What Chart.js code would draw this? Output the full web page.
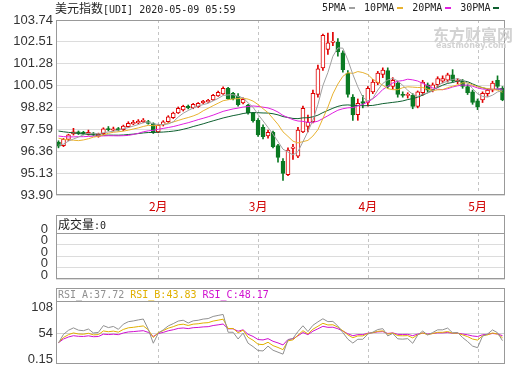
<!DOCTYPE html>
<html>
<head>
<meta charset="utf-8">
<script src="https://cdn.jsdelivr.net/npm/chart.js@4.4.1/dist/chart.umd.min.js"></script>
<style>
  html, body { margin: 0; padding: 0; background: #fff; }
  #wrap { position: relative; width: 520px; height: 365px; overflow: hidden; }
  canvas { position: absolute; left: 0; }
  .txt { position: absolute; white-space: nowrap; font-family: "DejaVu Sans Mono", monospace; font-size: 10px; line-height: 12px; color: #222; }
  .cjk { font-family: "Noto Sans CJK SC", sans-serif; font-size: 12px; }
  .mark { display: inline-block; width: 6px; height: 2px; vertical-align: middle; margin: 0 9px 0 3px; }
  .wm { position: absolute; color: #d2d2d2; white-space: nowrap; }
</style>
</head>
<body>
<div id="wrap">
  <canvas id="price-chart" width="520" height="215" style="top:0"></canvas>
  <canvas id="vol-chart" width="520" height="65" style="top:215px"></canvas>
  <canvas id="rsi-chart" width="520" height="77" style="top:288px"></canvas>

  <div class="txt" style="left:55px;top:2px"><span class="cjk">美元指数</span>[UDI] 2020-05-09 05:59</div>
  <div class="txt" style="left:322px;top:2px">5PMA<span class="mark" style="background:#a0a0a0"></span>10PMA<span class="mark" style="background:#e8b230"></span>20PMA<span class="mark" style="background:#e020e0"></span>30PMA<span class="mark" style="background:#0e6030;margin-right:0"></span></div>
  <div class="wm cjk" style="left:433px;top:22px;font-size:16px;font-weight:bold">东方财富网</div>
  <div class="wm" style="left:436px;top:41px;font-family:'DejaVu Sans';font-size:8px;font-weight:bold">eastmoney.com</div>

  <div class="txt" style="left:58px;top:218px"><span class="cjk">成交量</span>:0</div>
  <div class="txt" style="left:58px;top:289px"><span style="color:#909090">RSI_A:37.72</span> <span style="color:#e0b000">RSI_B:43.83</span> <span style="color:#d010d0">RSI_C:48.17</span></div>
</div>

<script>
  // trading days shown, by month
  const tradeDays = {
    1: [6, 7, 8, 9, 10, 13, 14, 15, 16, 17, 20, 21, 22, 23, 24, 27, 28, 29, 30, 31],
    2: [3, 4, 5, 6, 7, 10, 11, 12, 13, 14, 17, 18, 19, 20, 21, 24, 25, 26, 27, 28],
    3: [2, 3, 4, 5, 6, 9, 10, 11, 12, 13, 16, 17, 18, 19, 20, 23, 24, 25, 26, 27, 30, 31],
    4: [1, 2, 3, 6, 7, 8, 9, 10, 13, 14, 15, 16, 17, 20, 21, 22, 23, 24, 27, 28, 29, 30],
    5: [1, 4, 5, 6, 7, 8],
  };

  // closes before the first candle, only used to seed the MA / RSI lines
  const priorCloses = [98.27, 98.30, 98.25, 98.40, 98.35, 98.27, 97.85, 97.75, 97.65, 97.45,
    97.70, 97.60, 97.45, 97.15, 97.30, 97.15, 97.05, 97.20, 97.40, 97.40,
    97.65, 97.65, 97.60, 97.60, 96.95, 96.75, 96.40, 96.85, 96.85];

  const opens = [
    96.88, 96.68, 97.02, 97.33, 97.45, 97.42, 97.32, 97.36, 97.20, 97.35,
    97.63, 97.55, 97.63, 97.58, 97.74, 97.90, 97.95, 98.02, 98.03, 97.92,
    97.45, 97.84, 98.02, 98.25, 98.52, 98.68, 98.90, 98.80, 98.86, 99.08,
    99.13, 99.25, 99.47, 99.58, 99.90, 99.62, 99.45, 99.08, 98.95, 98.50,
    98.10, 97.70, 97.22, 97.42, 96.68, 95.80, 95.05, 96.52, 96.08, 97.45,
    97.75, 98.02, 99.55, 101.05, 102.08, 102.48, 102.50, 101.90, 100.75, 99.40,
    98.42, 99.15, 99.10, 99.70, 100.20, 100.68, 100.90, 100.00, 100.20, 99.55,
    99.50, 99.50, 98.88, 99.65, 100.10, 99.80, 100.10, 100.30, 100.35, 100.65,
    100.28, 100.30, 100.00, 99.70, 99.20, 99.25, 99.60, 99.80, 100.35, 99.90,
  ];
  const highs = [
    96.95, 97.08, 97.32, 97.65, 97.50, 97.48, 97.55, 97.42, 97.38, 97.68,
    97.75, 97.72, 97.70, 97.83, 98.02, 98.10, 98.14, 98.20, 98.10, 97.96,
    97.88, 98.08, 98.36, 98.56, 98.85, 98.95, 98.96, 99.05, 99.10, 99.22,
    99.28, 99.56, 99.74, 99.98, 99.95, 99.68, 99.60, 99.36, 99.00, 98.55,
    98.20, 97.85, 97.55, 97.50, 96.75, 95.95, 96.55, 96.75, 97.70, 98.90,
    98.40, 99.80, 101.20, 102.95, 103.00, 103.05, 102.70, 102.00, 100.90, 99.55,
    99.30, 99.50, 100.00, 100.40, 100.85, 101.05, 101.05, 100.50, 100.30, 99.70,
    99.65, 99.60, 99.75, 100.35, 100.20, 100.20, 100.55, 100.60, 100.75, 100.95,
    100.45, 100.40, 100.10, 99.80, 99.30, 99.70, 99.85, 100.30, 100.60, 100.00,
  ];
  const lows = [
    96.55, 96.62, 96.95, 97.27, 97.30, 97.28, 97.27, 97.25, 97.15, 97.30,
    97.50, 97.50, 97.50, 97.52, 97.70, 97.85, 97.90, 97.96, 97.88, 97.36,
    97.40, 97.78, 97.98, 98.20, 98.48, 98.62, 98.74, 98.75, 98.82, 99.04,
    99.10, 99.22, 99.44, 99.55, 99.28, 99.25, 98.90, 99.02, 98.45, 98.00,
    97.20, 97.05, 97.10, 96.55, 95.75, 94.72, 94.98, 95.90, 96.00, 97.40,
    97.45, 97.95, 99.40, 100.90, 101.80, 102.30, 101.70, 100.80, 99.40, 98.10,
    98.10, 98.80, 98.90, 99.60, 100.10, 100.50, 99.90, 99.85, 99.40, 99.40,
    99.35, 98.75, 98.80, 99.50, 99.70, 99.70, 100.00, 100.20, 100.25, 100.25,
    100.15, 99.90, 99.55, 99.00, 98.70, 99.10, 99.45, 99.70, 99.90, 99.20,
  ];
  const closes = [
    96.65, 97.03, 97.28, 97.45, 97.36, 97.34, 97.42, 97.30, 97.32, 97.62,
    97.57, 97.62, 97.56, 97.78, 97.93, 97.98, 98.05, 98.11, 97.93, 97.42,
    97.82, 98.02, 98.30, 98.50, 98.78, 98.88, 98.80, 99.00, 99.06, 99.18,
    99.23, 99.50, 99.68, 99.90, 99.32, 99.32, 98.98, 99.28, 98.52, 98.08,
    97.28, 97.18, 97.43, 96.62, 96.02, 95.12, 96.42, 96.60, 97.55, 98.78,
    98.00, 99.62, 101.00, 102.88, 102.45, 102.56, 101.95, 100.95, 99.55, 98.40,
    99.05, 99.05, 99.90, 100.25, 100.75, 100.92, 100.00, 100.35, 99.55, 99.50,
    99.55, 98.88, 99.70, 100.25, 99.80, 100.10, 100.45, 100.45, 100.65, 100.32,
    100.35, 100.00, 99.65, 99.10, 98.85, 99.62, 99.80, 100.20, 100.00, 99.25,
  ];

  const priceTicks = [93.90, 95.13, 96.36, 97.59, 98.82, 100.05, 101.28, 102.51, 103.74];
  const rsiTicks = [0.15, 54, 108];
  const volTicks = [0, 1, 2, 3, 4];

  const UP = '#e00000';
  const DOWN = '#0b7a23';

  const categories = Object.entries(tradeDays)
    .flatMap(([m, days]) => days.map((d) => `2020-${m.padStart(2, '0')}-${String(d).padStart(2, '0')}`));
  const monthStarts = categories
    .map((c, i) => (i > 0 && c.slice(5, 7) !== categories[i - 1].slice(5, 7) ? i : -1))
    .filter((i) => i >= 0);

  const allCloses = priorCloses.concat(closes);

  function movingAverage(n) {
    return closes.map((_, i) => {
      const end = priorCloses.length + i + 1;
      return allCloses.slice(end - n, end).reduce((a, b) => a + b, 0) / n;
    });
  }

  // same RSI as the terminal: SMA(MAX(C-LC,0),N,1) / SMA(ABS(C-LC),N,1) * 100
  function rsi(n) {
    let up = 0;
    let all = 0;
    const out = [];
    for (let i = 1; i < allCloses.length; i++) {
      const d = allCloses[i] - allCloses[i - 1];
      up = (Math.max(d, 0) + (n - 1) * up) / n;
      all = (Math.abs(d) + (n - 1) * all) / n;
      if (i >= priorCloses.length) out.push(all ? (up / all) * 100 : 50);
    }
    return out;
  }

  const isUp = closes.map((c, i) => c >= opens[i]);
  const candleColor = isUp.map((u) => (u ? UP : DOWN));

  const framePlugin = {
    id: 'frame',
    beforeDatasetsDraw(chart) {
      const { ctx, chartArea: a, scales: { x } } = chart;
      ctx.save();
      ctx.strokeStyle = '#c4c4c4';
      ctx.lineWidth = 1;
      ctx.setLineDash([3, 3]);
      monthStarts.forEach((i) => {
        const px = Math.round(x.getPixelForValue(i)) + 0.5;
        ctx.beginPath();
        ctx.moveTo(px, a.top);
        ctx.lineTo(px, a.bottom);
        ctx.stroke();
      });
      ctx.restore();
    },
    afterDraw(chart, args, opts) {
      const { ctx, chartArea: a } = chart;
      const head = opts.header || 0;
      ctx.save();
      ctx.strokeStyle = '#999';
      ctx.lineWidth = 1;
      ctx.strokeRect(a.left + 0.5, a.top - head + 0.5, a.right - a.left - 1, a.bottom - a.top + head - 1);
      if (head) {
        ctx.beginPath();
        ctx.moveTo(a.left, a.top + 0.5);
        ctx.lineTo(a.right, a.top + 0.5);
        ctx.stroke();
      }
      ctx.restore();
    },
  };

  Chart.defaults.animation = false;
  Chart.defaults.responsive = false;
  Chart.defaults.devicePixelRatio = 1;
  Chart.defaults.plugins.legend.display = false;
  Chart.defaults.plugins.tooltip.enabled = false;
  Chart.defaults.font.family = '"Liberation Sans", Arial, sans-serif';

  const tickFont = { family: '"Liberation Sans", Arial, sans-serif', size: 13 };

  function yScale(min, max, ticks, extra) {
    return Object.assign({
      min,
      max,
      afterBuildTicks: (scale) => { scale.ticks = ticks.map((value) => ({ value })); },
      afterFit: (scale) => {
        scale.width = 56;
        scale.paddingTop = 0;
        scale.paddingBottom = 0;
      },
      grid: { color: '#dcdcdc', drawTicks: false },
      border: { display: false },
      ticks: { padding: 3, color: '#333', font: tickFont },
    }, extra);
  }

  const maLines = [
    [5, '#a0a0a0'],
    [10, '#e8b230'],
    [20, '#e020e0'],
    [30, '#0e6030'],
  ];

  new Chart(document.getElementById('price-chart'), {
    data: {
      labels: categories,
      datasets: [
        ...maLines.map(([n, color]) => ({
          type: 'line',
          label: `${n}PMA`,
          data: movingAverage(n),
          borderColor: color,
          borderWidth: 1,
          pointRadius: 0,
          tension: 0,
          order: 1,
        })),
        {
          type: 'bar',
          label: 'body',
          data: opens.map((o, i) => [o, closes[i]]),
          backgroundColor: isUp.map((u) => (u ? '#fff' : DOWN)),
          borderColor: candleColor,
          borderWidth: 1,
          borderSkipped: false,
          barThickness: 4,
          minBarLength: 1,
          grouped: false,
          order: 2,
        },
        {
          type: 'bar',
          label: 'wick',
          data: lows.map((l, i) => [l, highs[i]]),
          backgroundColor: candleColor,
          borderWidth: 0,
          barThickness: 1,
          grouped: false,
          order: 3,
        },
      ],
    },
    options: {
      layout: { padding: { top: 20, right: 15, left: 0, bottom: 0 } },
      scales: {
        x: {
          type: 'category',
          offset: true,
          grid: { display: false, drawTicks: false },
          border: { display: false },
          afterFit: (scale) => { scale.height = 20; },
          ticks: {
            autoSkip: false,
            maxRotation: 0,
            padding: 4,
            color: '#d00000',
            font: { family: '"Noto Sans CJK SC", sans-serif', size: 12 },
            callback: (v, i) => (monthStarts.includes(i) ? `${Number(categories[i].slice(5, 7))}月` : ''),
          },
        },
        y: yScale(93.90, 103.74, priceTicks, {
          ticks: { padding: 3, color: '#333', font: tickFont, callback: (v) => v.toFixed(2) },
        }),
      },
    },
    plugins: [framePlugin],
  });

  new Chart(document.getElementById('vol-chart'), {
    type: 'bar',
    data: {
      labels: categories,
      datasets: [{ label: '成交量', data: categories.map(() => 0), backgroundColor: UP }],
    },
    options: {
      layout: { padding: { top: 18, right: 15, left: 0, bottom: 1 } },
      plugins: { frame: { header: 18 } },
      scales: {
        x: { display: false, offset: true },
        y: yScale(0, 4, volTicks, {
          ticks: { autoSkip: false, padding: 8, labelOffset: -4, color: '#333', font: tickFont, callback: () => '0' },
        }),
      },
    },
    plugins: [framePlugin],
  });

  const rsiLines = [
    [6, 'RSI_A', '#909090'],
    [12, 'RSI_B', '#e0b000'],
    [24, 'RSI_C', '#d010d0'],
  ];

  new Chart(document.getElementById('rsi-chart'), {
    type: 'line',
    data: {
      labels: categories,
      datasets: rsiLines.map(([n, label, color]) => ({
        label,
        data: rsi(n),
        borderColor: color,
        borderWidth: 1,
        pointRadius: 0,
        tension: 0,
      })),
    },
    options: {
      layout: { padding: { top: 13, right: 15, left: 0, bottom: 1 } },
      plugins: { frame: { header: 13 } },
      scales: {
        x: { display: false, offset: true },
        y: yScale(-10.2, 120.3, rsiTicks, {
          grid: { drawTicks: false, color: (c) => (c.tick && c.tick.value === 54 ? '#d0d0d0' : 'transparent') },
          ticks: { autoSkip: false, padding: 3, color: '#333', font: tickFont, callback: (v) => String(v) },
        }),
      },
    },
    plugins: [framePlugin],
  });
</script>
</body>
</html>
